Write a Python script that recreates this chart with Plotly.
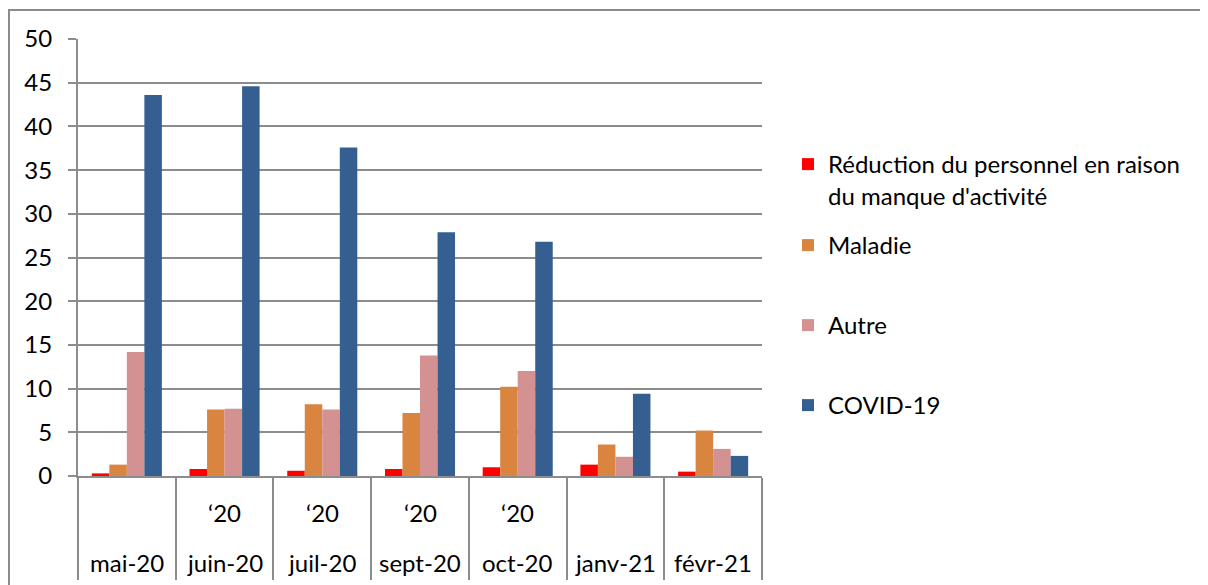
import plotly.graph_objects as go

months = ["mai-20", "juin-20", "juil-20", "sept-20", "oct-20", "janv-21", "févr-21"]
upper_labels = ["", "‘20", "‘20", "‘20", "‘20", "", ""]
series_names = [
    "Réduction du personnel en raison<br>du manque d'activité",
    "Maladie",
    "Autre",
    "COVID-19",
]
reduction = [0.3, 0.8, 0.6, 0.8, 1.0, 1.3, 0.5]
maladie = [1.3, 7.6, 8.2, 7.2, 10.2, 3.6, 5.2]
autre = [14.2, 7.7, 7.6, 13.8, 12.0, 2.2, 3.1]
covid = [43.6, 44.6, 37.6, 27.9, 26.8, 9.4, 2.3]
colors = ["#FF0000", "#D9843F", "#D39191", "#365F91"]
y_ticks = [0, 5, 10, 15, 20, 25, 30, 35, 40, 45, 50]

FONT = "Lato"
FS = 24
GRID = "#8C8C8C"

OFF = 8  # default body margin of the html page
W, H = 1208 - OFF, 585 - OFF
L = 78 - OFF
T = 39 - OFF
B = H - (476 - OFF)
R = W - (762 - OFF)
PW, PH = W - L - R, H - T - B

def px_x(p):
    return (p - OFF - L) / PW

def px_y(p):
    return (H - B - (p - OFF)) / PH

fig = go.Figure()
legend_ids = ["legend", "legend2", "legend3", "legend4"]
for name, vals, col, lg in zip(series_names, [reduction, maladie, autre, covid], colors, legend_ids):
    fig.add_trace(go.Bar(x=months, y=vals, name=name, marker=dict(color=col, line=dict(width=0)),
                         legend=lg))

annotations = []
for m, u in zip(months, upper_labels):
    if u:
        annotations.append(dict(x=m, y=px_y(512), xref="x", yref="paper", text=u, showarrow=False,
                                font=dict(family=FONT, size=FS, color="black"), yanchor="middle"))
    annotations.append(dict(x=m, y=px_y(562), xref="x", yref="paper", text=m, showarrow=False,
                            font=dict(family=FONT, size=FS, color="black"), yanchor="middle"))

legend_text_y = [161, 242, 322, 402]
legend_cfg = {}
for lg, ty in zip(legend_ids, legend_text_y):
    legend_cfg[lg] = dict(x=px_x(788), y=px_y(ty - 19), xanchor="left", yanchor="top",
                          xref="paper", yref="paper", valign="top", visible=True,
                          font=dict(family=FONT, size=FS, color="black"),
                          bgcolor="rgba(0,0,0,0)", borderwidth=0)

fig.update_layout(
    width=W, height=H,
    margin=dict(l=L, r=R, t=T, b=B, pad=0, autoexpand=False),
    paper_bgcolor="white", plot_bgcolor="white",
    barmode="group", bargap=0.283, bargroupgap=0,
    showlegend=True,
    font=dict(family=FONT, size=FS, color="black"),
    annotations=annotations,
    shapes=[dict(type="rect", xref="paper", yref="paper", x0=px_x(9), x1=px_x(1260),
                 y0=px_y(10), y1=px_y(640), line=dict(color=GRID, width=2),
                 fillcolor="rgba(0,0,0,0)", layer="below")],
    **legend_cfg,
)
fig.update_xaxes(type="category", tickson="boundaries", ticks="outside", ticklen=102,
                 tickcolor=GRID, tickwidth=2, showticklabels=False, showgrid=False,
                 showline=True, linecolor=GRID, linewidth=2, zeroline=False, automargin=False)
fig.update_yaxes(range=[0, 50], tickvals=y_ticks, ticks="outside", ticklen=8, tickcolor=GRID,
                 tickwidth=2, showgrid=True, gridcolor=GRID, gridwidth=2,
                 showline=True, linecolor=GRID, linewidth=2, zeroline=False, automargin=False,
                 tickfont=dict(family=FONT, size=FS, color="black"), ticklabelstandoff=11)

fig.write_html("out.html")
